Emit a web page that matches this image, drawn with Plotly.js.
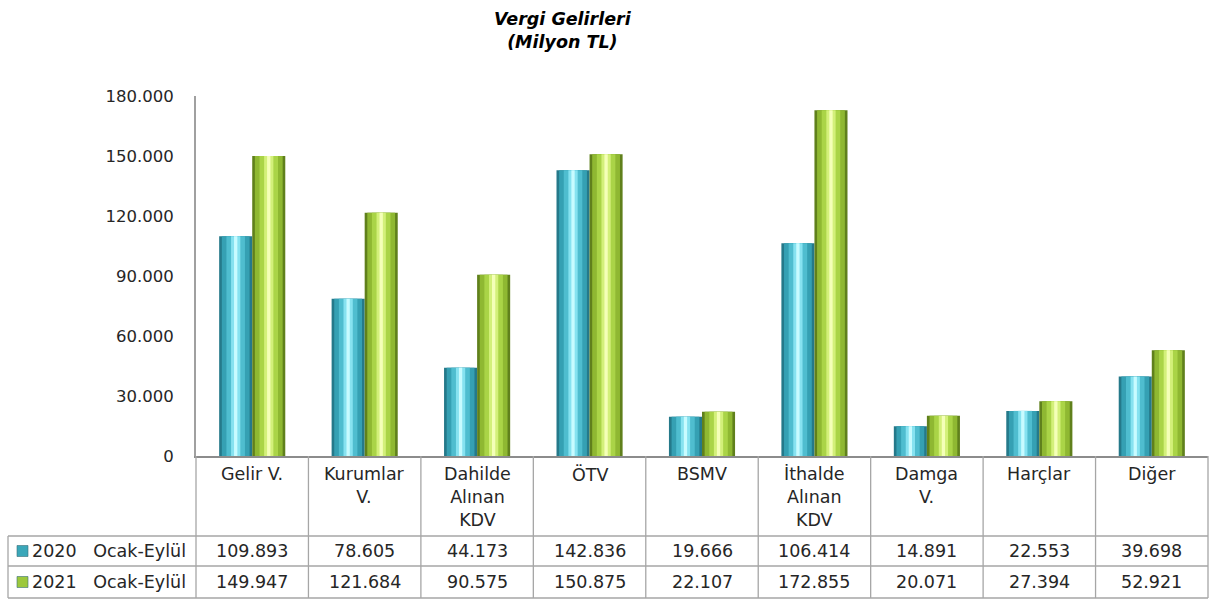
<!DOCTYPE html>
<html><head><meta charset="utf-8">
<script src="https://cdn.plot.ly/plotly-3.0.1.min.js"></script>
<style>html,body{margin:0;padding:0;background:#fff;}#chart{width:1224px;height:605px;}</style>
</head><body><div id="chart"></div>
<script>
const categories = ["Gelir V.", "Kurumlar<br>V.", "Dahilde<br>Alınan<br>KDV", "ÖTV", "BSMV", "İthalde<br>Alınan<br>KDV", "Damga<br>V.", "Harçlar", "Diğer"];
const seriesNames = ["2020  Ocak-Eylül", "2021  Ocak-Eylül"];
const values2020 = [109893, 78605, 44173, 142836, 19666, 106414, 14891, 22553, 39698];
const values2021 = [149947, 121684, 90575, 150875, 22107, 172855, 20071, 27394, 52921];
const yTicks = [0, 30000, 60000, 90000, 120000, 150000, 180000];

const W = 1224, H = 605;
const L = 196, R = 1208, T = 96, B = 456;
const px2x = p => (p - L) / (R - L);
const py2y = p => (B - p) / (B - T);
const FONT = "DejaVu Sans";
const fmt = v => String(v).replace(/\B(?=(\d{3})+(?!\d))/g, ".");

const bw = 0.294;
// gradient strips: [start fraction, width fraction, color]
const cyanStrips = [[0,1,"#25798a"],[0.08,0.84,"#35a0b3"],[0.22,0.56,"#4fbdcf"],[0.36,0.28,"#86e2f0"],[0.45,0.1,"#c8fbff"]];
const greenStrips = [[0,1,"#60801c"],[0.08,0.84,"#8fb832"],[0.22,0.56,"#aad447"],[0.36,0.28,"#d3f07a"],[0.45,0.1,"#f4ffb8"]];
const xIdx = categories.map((c,i)=>i);
const traces = [];
function addSeries(vals, strips, baseOff, name){
  strips.forEach((s,k)=>{
    traces.push({type:"bar", x:xIdx, y:vals, name:name, showlegend:false,
      width:bw*s[1], offset:baseOff + bw*s[0],
      marker:{color:s[2], line:{width:0}}, hoverinfo:k===0?"y+name":"skip"});
  });
}
addSeries(values2020, cyanStrips, -bw, seriesNames[0]);
addSeries(values2021, greenStrips, 0, seriesNames[1]);

const shapes = [];
const annotations = [];
const grey = "#a6a6a6";
const txt = "#262626";
const colEdges = [];
for (let i=0;i<=categories.length;i++) colEdges.push(L + i*(R-L)/categories.length);
// vertical lines
colEdges.forEach(cx=>{
  shapes.push({type:"line", xref:"paper", yref:"paper", x0:px2x(cx), x1:px2x(cx), y0:py2y(B), y1:py2y(598), line:{color:grey,width:1.3}});
});
shapes.push({type:"line", xref:"paper", yref:"paper", x0:px2x(8), x1:px2x(8), y0:py2y(536), y1:py2y(598), line:{color:grey,width:1.3}});
[536,566,598].forEach(ry=>{
  shapes.push({type:"line", xref:"paper", yref:"paper", x0:px2x(8), x1:px2x(R), y0:py2y(ry), y1:py2y(ry), line:{color:grey,width:1.3}});
});
// header labels and values
categories.forEach((c,i)=>{
  const cx = (colEdges[i]+colEdges[i+1])/2;
  annotations.push({xref:"paper", yref:"paper", x:px2x(cx), y:py2y(462), yanchor:"top", xanchor:"center",
    text:c, showarrow:false, align:"center", font:{family:FONT,size:17.5,color:txt}});
  annotations.push({xref:"paper", yref:"paper", x:px2x(cx), y:py2y(551), yanchor:"middle", xanchor:"center",
    text:fmt(values2020[i]), showarrow:false, font:{family:FONT,size:17.5,color:txt}});
  annotations.push({xref:"paper", yref:"paper", x:px2x(cx), y:py2y(582), yanchor:"middle", xanchor:"center",
    text:fmt(values2021[i]), showarrow:false, font:{family:FONT,size:17.5,color:txt}});
});
// legend keys
[[551,"#3aa7b9",seriesNames[0]],[582,"#9cc83c",seriesNames[1]]].forEach(r=>{
  shapes.push({type:"rect", xref:"paper", yref:"paper", x0:px2x(17), x1:px2x(28), y0:py2y(r[0]-5.5), y1:py2y(r[0]+5.5), fillcolor:r[1], line:{color:"#3a6f78",width:0.6}});
  annotations.push({xref:"paper", yref:"paper", x:px2x(30), y:py2y(r[0]), xanchor:"left", yanchor:"middle",
    text:r[2].replace("  ","&nbsp;&nbsp;&nbsp;"), showarrow:false, font:{family:FONT,size:17.5,color:txt}});
});
// title
annotations.push({xref:"paper", yref:"paper", x:px2x(563), y:py2y(30), xanchor:"center", yanchor:"middle",
  text:"<b><i>Vergi Gelirleri<br>(Milyon TL)</i></b>", showarrow:false, align:"center", font:{family:FONT,size:17.5,color:"#000"}});

const layout = {
  width:W, height:H, margin:{l:L, r:W-R, t:T, b:H-B, pad:0},
  paper_bgcolor:"#fff", plot_bgcolor:"#fff",
  barmode:"overlay", separators:",.", showlegend:false,
  xaxis:{range:[-0.5, categories.length-0.5], showticklabels:false, ticks:"", showgrid:false, zeroline:false,
    showline:true, linecolor:"#8c8c8c", linewidth:2, fixedrange:true},
  yaxis:{range:[0,180000], tickvals:yTicks, ticktext:yTicks.map(fmt), ticks:"", ticklen:0, showgrid:false, zeroline:false,
    showline:true, linecolor:"#a0a0a0", linewidth:2, tickfont:{family:FONT,size:16.5,color:txt}, ticklabelstandoff:17},
  shapes:shapes, annotations:annotations
};
Plotly.newPlot("chart", traces, layout, {displayModeBar:false, staticPlot:true});
</script></body></html>
